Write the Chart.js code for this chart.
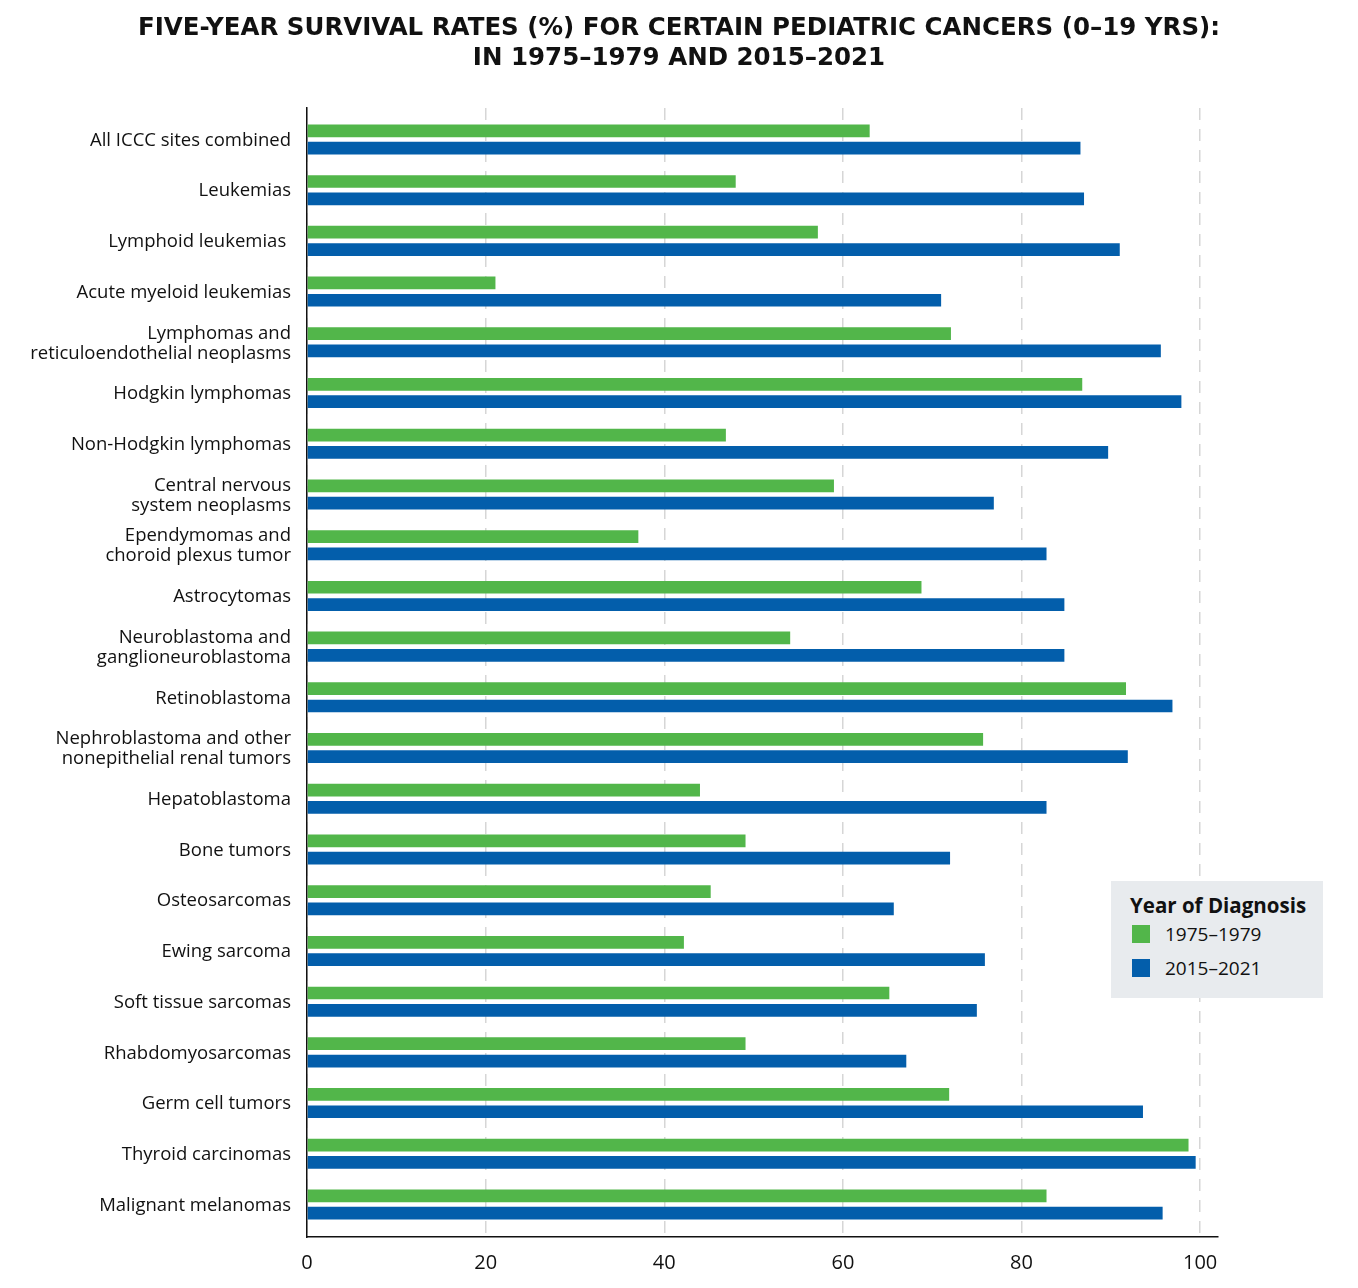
<!DOCTYPE html>
<html><head><meta charset="utf-8">
<script src="https://cdn.jsdelivr.net/npm/chart.js@4.4.1/dist/chart.umd.min.js"></script>
<style>
html,body{margin:0;padding:0;background:#fff;}
#wrap{position:relative;width:1358px;height:1288px;}
#title{position:absolute;left:0;top:12px;width:1358px;text-align:center;font-family:"DejaVu Sans",sans-serif;font-weight:700;font-size:24.5px;line-height:30px;color:#111;}
#legend{position:absolute;left:1111px;top:881px;width:212px;height:117px;background:#e8ebee;box-sizing:border-box;padding:12px 0 0 19px;font-family:"Open Sans",sans-serif;color:#111;}
#legend .lt{font-weight:700;font-size:20.5px;line-height:24px;}
#legend .li{font-size:19px;height:34px;line-height:34px;display:flex;align-items:center;}
#legend .li:first-of-type{margin-top:6px;}
#legend .sw{display:inline-block;width:18px;height:18px;margin-left:2px;margin-right:15px;}
canvas{position:absolute;left:0;top:0;}
</style></head>
<body><div id="wrap">
<canvas id="c" width="1358" height="1288"></canvas>
<div id="title"></div>
<div id="legend"></div>
</div>
<script>
const titleLines = ["FIVE-YEAR SURVIVAL RATES (%) FOR CERTAIN PEDIATRIC CANCERS (0–19 YRS):", "IN 1975–1979 AND 2015–2021"];
const legendTitle = "Year of Diagnosis";
const seriesNames = ["1975–1979", "2015–2021"];
const categories = [
  "All ICCC sites combined",
  "Leukemias",
  "Lymphoid leukemias ",
  "Acute myeloid leukemias",
  ["Lymphomas and", "reticuloendothelial neoplasms"],
  "Hodgkin lymphomas",
  "Non-Hodgkin lymphomas",
  ["Central nervous", "system neoplasms"],
  ["Ependymomas and", "choroid plexus tumor"],
  "Astrocytomas",
  ["Neuroblastoma and", "ganglioneuroblastoma"],
  "Retinoblastoma",
  ["Nephroblastoma and other", "nonepithelial renal tumors"],
  "Hepatoblastoma",
  "Bone tumors",
  "Osteosarcomas",
  "Ewing sarcoma",
  "Soft tissue sarcomas",
  "Rhabdomyosarcomas",
  "Germ cell tumors",
  "Thyroid carcinomas",
  "Malignant melanomas"
];
const rates1975 = [63.0, 48.0, 57.2, 21.1, 72.1, 86.8, 46.9, 59.0, 37.1, 68.8, 54.1, 91.7, 75.7, 44.0, 49.1, 45.2, 42.2, 65.2, 49.1, 71.9, 98.7, 82.8];
const rates2015 = [86.6, 87.0, 91.0, 71.0, 95.6, 97.9, 89.7, 76.9, 82.8, 84.8, 84.8, 96.9, 91.9, 82.8, 72.0, 65.7, 75.9, 75.0, 67.1, 93.6, 99.5, 95.8];
const xTicks = [0, 20, 40, 60, 80, 100];

const GREEN = '#52b64a';
const BLUE = '#035eab';
const LABEL_FONT = '"Open Sans", sans-serif';
const TICK_FONT = '"Open Sans", sans-serif';

document.getElementById('title').innerHTML = titleLines.join('<br>');

const chart = new Chart(document.getElementById('c'), {
  type: 'bar',
  data: {
    datasets: [
      {label: seriesNames[0], data: rates1975.map((v, i) => ({x: v, y: i})), backgroundColor: GREEN, borderWidth: 0},
      {label: seriesNames[1], data: rates2015.map((v, i) => ({x: v, y: i})), backgroundColor: BLUE, borderWidth: 0}
    ]
  },
  options: {
    indexAxis: 'y',
    responsive: false,
    animation: false,
    layout: {padding: {top: 108, right: 140, bottom: 0, left: 0}},
    datasets: {bar: {categoryPercentage: 0.683, barPercentage: 0.734}},
    plugins: {legend: {display: false}, title: {display: false}, tooltip: {enabled: false}},
    scales: {
      x: {
        type: 'linear', position: 'bottom', min: 0, max: 102,
        afterBuildTicks: s => { s.ticks = xTicks.map(v => ({value: v})); },
        afterFit: s => { s.height = 51; },
        ticks: {padding: 14, color: '#111', font: {family: TICK_FONT, size: 20}},
        grid: {color: '#d6d6d6', lineWidth: 1.5, drawTicks: false},
        border: {display: true, color: '#111', width: 1.5, dash: [12, 9]}
      },
      y: {
        type: 'linear', reverse: true, offset: false, min: -0.62, max: 21.64,
        afterBuildTicks: s => { s.ticks = categories.map((_, i) => ({value: i})); },
        afterFit: s => { s.width = 307; },
        ticks: {autoSkip: false, padding: 16, color: '#111', labelOffset: 1,
                font: {family: LABEL_FONT, size: 18.5, lineHeight: 1.08},
                callback: v => categories[v]},
        grid: {display: false, drawTicks: false, offset: false},
        border: {display: true, color: '#111', width: 1.5}
      }
    }
  }
});

const lg = document.getElementById('legend');
lg.innerHTML = '<div class="lt">' + legendTitle + '</div>' +
  chart.data.datasets.map(d => '<div class="li"><span class="sw" style="background:' + d.backgroundColor + '"></span>' + d.label + '</div>').join('');
</script>
</body></html>
